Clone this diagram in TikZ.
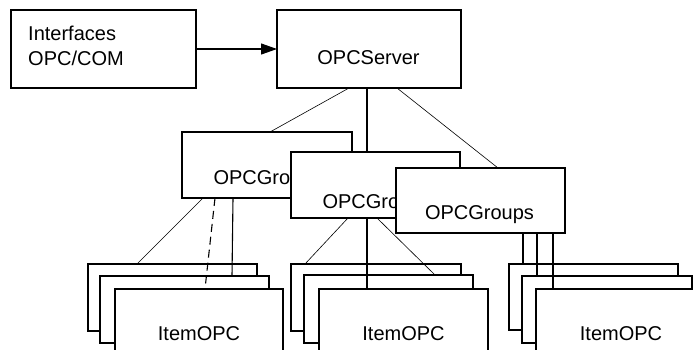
\documentclass[tikz,border=0pt]{standalone}
\usepackage{fontspec}
\setmainfont{Liberation Sans}
\usetikzlibrary{arrows.meta}
\begin{document}
\begin{tikzpicture}[x=1pt,y=-1pt,
  box/.style={draw, fill=white, line width=1.2pt, inner sep=0pt, outer sep=0pt},
  txt/.style={inner sep=0pt, font=\fontsize{20}{25}\selectfont, anchor=base},
  conn/.style={line width=1.1pt},
  thinconn/.style={line width=0.6pt},
  dashconn/.style={line width=1.1pt, dash pattern=on 8pt off 5pt}]
\useasboundingbox (0,0) rectangle (693,349);
\clip (0,0) rectangle (693,349);
% top row
\node[box, minimum width=185pt, minimum height=78pt] (iface) at (103.5,49) {};
\node[txt, anchor=north west, align=left] (iface-t) at (28,26) {Interfaces\\OPC/COM};
\node[box, minimum width=184pt, minimum height=78pt] (server) at (369,49) {};
\node[txt] (server-t) at (368.5,64) {OPCServer};
\draw[conn, -{Triangle[length=16pt,width=11pt]}] (iface.east) -- (server.west);
% groups
\node[box, minimum width=170pt, minimum height=66pt] (g1) at (267,165) {};
\node[txt] (g1-t) at (268,184) {OPCGroups};
\node[box, minimum width=169pt, minimum height=66pt] (g2) at (375.5,185) {};
\node[txt] (g2-t) at (377,208) {OPCGroups};
\node[box, minimum width=169pt, minimum height=65pt] (g3) at (480.5,200.5) {};
\node[txt] (g3-t) at (479.5,219) {OPCGroups};
% server connectors
\draw[thinconn] ([xshift=-20pt]server.south) -- ([xshift=3pt]g1.north);
\draw[conn] ([xshift=-2pt]server.south) -- ([xshift=-8.5pt]g2.north);
\draw[thinconn] ([xshift=28pt]server.south) -- ([xshift=17.5pt]g3.north);
% item stack 1
\node[box, minimum width=169pt, minimum height=67pt] (s1a) at (172.5,297.5) {};
\node[box, minimum width=169pt, minimum height=67pt] (s1b) at (184.5,309.5) {};
\node[box, minimum width=168pt, minimum height=120pt] (s1c) at (199,349) {};
\node[txt] (s1-t) at (199,340) {ItemOPC};
% item stack 2
\node[box, minimum width=170pt, minimum height=67pt] (s2a) at (376,297.5) {};
\node[box, minimum width=169pt, minimum height=68pt] (s2b) at (388.5,309) {};
\node[box, minimum width=169pt, minimum height=120pt] (s2c) at (403.5,349) {};
\node[txt] (s2-t) at (403.5,340) {ItemOPC};
% item stack 3
\node[box, minimum width=169pt, minimum height=66pt] (s3a) at (593.5,297) {};
\node[box, minimum width=170pt, minimum height=67pt] (s3b) at (607,309.5) {};
\node[box, minimum width=170pt, minimum height=120pt] (s3c) at (621,349) {};
\node[txt] (s3-t) at (621,340) {ItemOPC};
% group 1 connectors
\draw[thinconn] ([xshift=-64pt]g1.south) -- ([xshift=-35.5pt]s1a.north);
\draw[dashconn] ([xshift=-52pt]g1.south) -- ([xshift=6pt]s1c.north);
\draw[conn] ([xshift=-34pt]g1.south) -- ([xshift=47.5pt]s1b.north);
% group 2 connectors
\draw[thinconn] ([xshift=-27.5pt]g2.south) -- ([xshift=-71pt]s2a.north);
\draw[conn] ([xshift=-8.5pt]g2.south) -- ([xshift=-36.5pt]s2c.north);
\draw[thinconn] ([xshift=1.5pt]g2.south) -- ([xshift=46.5pt]s2b.north);
% group 3 connectors
\draw[conn] ([xshift=42.5pt]g3.south) -- ([xshift=-70.5pt]s3a.north);
\draw[conn] ([xshift=56.5pt]g3.south) -- ([xshift=-70pt]s3b.north);
\draw[conn] ([xshift=72.5pt]g3.south) -- ([xshift=-68pt]s3c.north);
\end{tikzpicture}
\end{document}
